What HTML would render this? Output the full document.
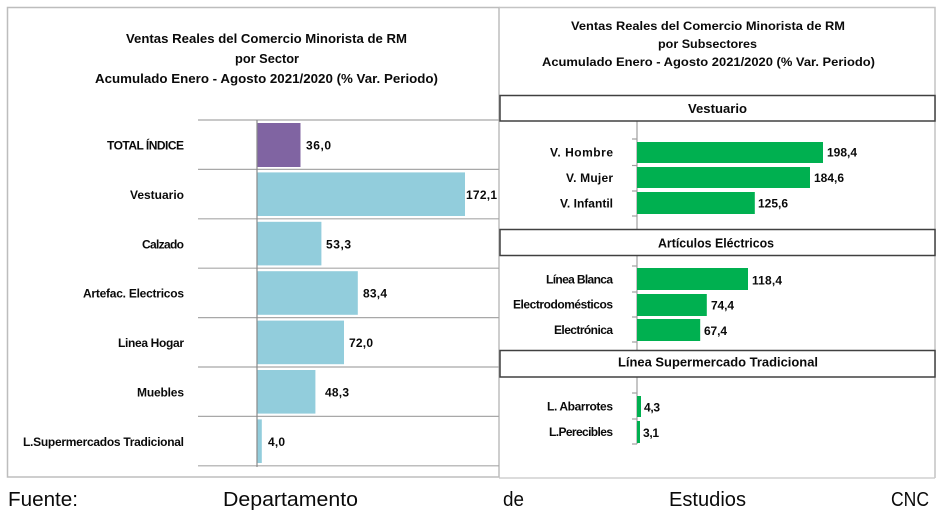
<!DOCTYPE html>
<html><head><meta charset="utf-8"><style>
html,body{margin:0;padding:0;background:#fff;}
svg{display:block;}
text{font-family:"Liberation Sans",sans-serif;fill:#0a0a0a;}
.b{font-weight:bold;}
</style></head><body>
<svg width="948" height="528" viewBox="0 0 948 528" xmlns="http://www.w3.org/2000/svg">
<rect x="0" y="0" width="948" height="528" fill="#fff"/>
<!-- panel borders -->
<rect x="7.5" y="7.5" width="491.5" height="469.5" fill="none" stroke="#bdbdbd" stroke-width="1.5"/>
<path d="M499 7.5 H935 V478" fill="none" stroke="#c4c4c4" stroke-width="1.5"/>
<line x1="499" y1="478" x2="935" y2="478" stroke="#c8c8c8" stroke-width="1.2"/>

<!-- LEFT TITLE -->
<g font-size="13">
<text class="b" x="126" y="43" textLength="281" lengthAdjust="spacingAndGlyphs">Ventas Reales del Comercio Minorista de RM</text>
<text class="b" x="235" y="63" textLength="64" lengthAdjust="spacingAndGlyphs">por Sector</text>
<text class="b" x="95" y="83" textLength="343" lengthAdjust="spacingAndGlyphs">Acumulado Enero - Agosto 2021/2020 (% Var. Periodo)</text>
</g>

<!-- LEFT gridlines -->
<g stroke="#a8a8a8" stroke-width="1.2">
<line x1="198" y1="120" x2="499" y2="120"/>
<line x1="198" y1="169.4" x2="499" y2="169.4"/>
<line x1="198" y1="218.8" x2="499" y2="218.8"/>
<line x1="198" y1="268.2" x2="499" y2="268.2"/>
<line x1="198" y1="317.6" x2="499" y2="317.6"/>
<line x1="198" y1="367" x2="499" y2="367"/>
<line x1="198" y1="416.4" x2="499" y2="416.4"/>
<line x1="198" y1="465.8" x2="499" y2="465.8"/>
</g>
<!-- LEFT bars -->
<rect x="257" y="123" width="43.5" height="44" fill="#8064a2"/>
<rect x="257" y="172.4" width="208" height="43.6" fill="#92cddc"/>
<rect x="257" y="221.8" width="64.4" height="43.6" fill="#92cddc"/>
<rect x="257" y="271.2" width="100.8" height="43.6" fill="#92cddc"/>
<rect x="257" y="320.6" width="87" height="43.6" fill="#92cddc"/>
<rect x="257" y="370" width="58.4" height="43.6" fill="#92cddc"/>
<rect x="257" y="419.4" width="4.8" height="43.6" fill="#92cddc"/>
<line x1="257" y1="120" x2="257" y2="467" stroke="#8a8a8a" stroke-width="1.2"/>

<!-- LEFT category labels -->
<g font-size="12">
<text class="b" x="107" y="149.5" textLength="77" lengthAdjust="spacing">TOTAL ÍNDICE</text>
<text class="b" x="130" y="198.9" textLength="54" lengthAdjust="spacing">Vestuario</text>
<text class="b" x="142" y="248.3" textLength="42" lengthAdjust="spacing">Calzado</text>
<text class="b" x="83" y="297.7" textLength="101" lengthAdjust="spacing">Artefac. Electricos</text>
<text class="b" x="118" y="347.1" textLength="66" lengthAdjust="spacing">Linea Hogar</text>
<text class="b" x="137" y="396.5" textLength="47" lengthAdjust="spacing">Muebles</text>
<text class="b" x="23" y="445.9" textLength="161" lengthAdjust="spacing">L.Supermercados Tradicional</text>
</g>
<!-- LEFT values -->
<g font-size="12">
<text class="b" x="306" y="149.5" textLength="25" lengthAdjust="spacing">36,0</text>
<text class="b" x="466" y="198.9" textLength="31" lengthAdjust="spacing">172,1</text>
<text class="b" x="326" y="248.3" textLength="25" lengthAdjust="spacing">53,3</text>
<text class="b" x="363" y="297.7" textLength="24" lengthAdjust="spacing">83,4</text>
<text class="b" x="349" y="347.1" textLength="24" lengthAdjust="spacing">72,0</text>
<text class="b" x="325" y="396.5" textLength="24" lengthAdjust="spacing">48,3</text>
<text class="b" x="268" y="445.9" textLength="17" lengthAdjust="spacing">4,0</text>
</g>

<!-- RIGHT TITLE -->
<g font-size="12">
<text class="b" x="571" y="30" textLength="274" lengthAdjust="spacingAndGlyphs">Ventas Reales del Comercio Minorista de RM</text>
<text class="b" x="658" y="48" textLength="99" lengthAdjust="spacingAndGlyphs">por Subsectores</text>
<text class="b" x="542" y="66" textLength="333" lengthAdjust="spacingAndGlyphs">Acumulado Enero - Agosto 2021/2020 (% Var. Periodo)</text>
</g>

<!-- RIGHT axis -->
<g stroke="#a0a0a0" stroke-width="1.2">
<line x1="637" y1="121" x2="637" y2="229"/>
<line x1="637" y1="256" x2="637" y2="350"/>
<line x1="637" y1="377" x2="637" y2="444"/>
<line x1="632" y1="139" x2="637" y2="139"/>
<line x1="632" y1="165.5" x2="637" y2="165.5"/>
<line x1="632" y1="191" x2="637" y2="191"/>
<line x1="632" y1="216" x2="637" y2="216"/>
<line x1="632" y1="266" x2="637" y2="266"/>
<line x1="632" y1="292" x2="637" y2="292"/>
<line x1="632" y1="317" x2="637" y2="317"/>
<line x1="632" y1="342" x2="637" y2="342"/>
<line x1="632" y1="393" x2="637" y2="393"/>
<line x1="632" y1="419" x2="637" y2="419"/>
<line x1="632" y1="444" x2="637" y2="444"/>
</g>
<!-- RIGHT bars -->
<g fill="#00b050">
<rect x="637" y="142" width="186" height="21"/>
<rect x="637" y="167" width="173" height="21"/>
<rect x="637" y="192" width="117.8" height="22"/>
<rect x="637" y="268" width="111" height="22"/>
<rect x="637" y="294" width="69.8" height="22"/>
<rect x="637" y="319" width="63.2" height="22"/>
<rect x="637" y="396" width="4" height="21"/>
<rect x="637" y="421" width="3" height="22"/>
</g>

<!-- header boxes -->
<g fill="#fff" stroke="#404040" stroke-width="1.5">
<rect x="500" y="95.5" width="435" height="25.5"/>
<rect x="500" y="229.5" width="435" height="26"/>
<rect x="500" y="350.5" width="435" height="26.5"/>
</g>
<g font-size="13">
<text class="b" x="688" y="113" textLength="59" lengthAdjust="spacingAndGlyphs">Vestuario</text>
<text class="b" x="658" y="247.5" textLength="116" lengthAdjust="spacingAndGlyphs">Artículos Eléctricos</text>
<text class="b" x="618" y="366.5" textLength="200" lengthAdjust="spacingAndGlyphs">Línea  Supermercado Tradicional</text>
</g>

<!-- RIGHT labels -->
<g font-size="12">
<text class="b" x="550" y="156.5" textLength="63" lengthAdjust="spacing">V. Hombre</text>
<text class="b" x="566" y="182" textLength="47" lengthAdjust="spacing">V. Mujer</text>
<text class="b" x="560" y="207.5" textLength="53" lengthAdjust="spacing">V. Infantil</text>
<text class="b" x="546" y="283.5" textLength="67" lengthAdjust="spacing">Línea Blanca</text>
<text class="b" x="513" y="308.5" textLength="100" lengthAdjust="spacing">Electrodomésticos</text>
<text class="b" x="554" y="334" textLength="59" lengthAdjust="spacing">Electrónica</text>
<text class="b" x="547" y="410.5" textLength="66" lengthAdjust="spacing">L. Abarrotes</text>
<text class="b" x="549" y="436" textLength="64" lengthAdjust="spacing">L.Perecibles</text>
</g>
<!-- RIGHT values -->
<g font-size="12">
<text class="b" x="827" y="156.5" textLength="30" lengthAdjust="spacing">198,4</text>
<text class="b" x="814" y="182" textLength="30" lengthAdjust="spacing">184,6</text>
<text class="b" x="758" y="207.5" textLength="30" lengthAdjust="spacing">125,6</text>
<text class="b" x="752" y="284.5" textLength="30" lengthAdjust="spacing">118,4</text>
<text class="b" x="711" y="309.5" textLength="23" lengthAdjust="spacing">74,4</text>
<text class="b" x="704" y="335" textLength="23" lengthAdjust="spacing">67,4</text>
<text class="b" x="644" y="411.5" textLength="16" lengthAdjust="spacing">4,3</text>
<text class="b" x="643" y="437" textLength="16" lengthAdjust="spacing">3,1</text>
</g>

<!-- footer -->
<g font-size="20">
<text x="8" y="506" textLength="70" lengthAdjust="spacingAndGlyphs">Fuente:</text>
<text x="223" y="506" textLength="135" lengthAdjust="spacingAndGlyphs">Departamento</text>
<text x="503" y="506" textLength="21" lengthAdjust="spacingAndGlyphs">de</text>
<text x="669" y="506" textLength="77" lengthAdjust="spacingAndGlyphs">Estudios</text>
<text x="891" y="506" textLength="38" lengthAdjust="spacingAndGlyphs">CNC</text>
</g>
</svg>
</body></html>
